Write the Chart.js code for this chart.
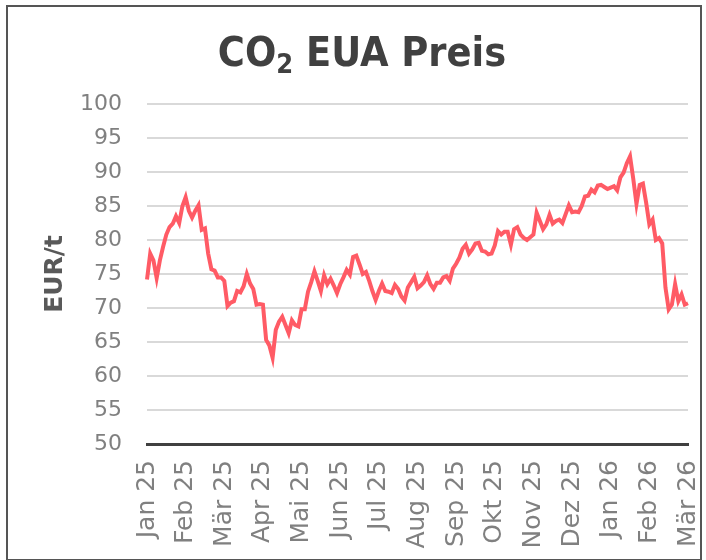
<!DOCTYPE html>
<html>
<head>
<meta charset="utf-8">
<script src="https://cdn.jsdelivr.net/npm/chart.js@4"></script>
<style>
  html, body { margin: 0; padding: 0; background: #fff; }
  #wrap { position: relative; width: 706px; height: 560px; }
  #frame { position: absolute; left: 6px; top: 5px; width: 692px; height: 552px; border: 2px solid #555; pointer-events: none; }
</style>
</head>
<body>
<div id="wrap">
  <canvas id="chart" width="706" height="560"></canvas>
  <div id="frame"></div>
</div>
<script>
// CO2 EUA Preis – daily-ish series, 12 samples per month label
const monthLabels = ['Jan 25', 'Feb 25', 'Mär 25', 'Apr 25', 'Mai 25', 'Jun 25', 'Jul 25',
    'Aug 25', 'Sep 25', 'Okt 25', 'Nov 25', 'Dez 25', 'Jan 26', 'Feb 26', 'Mär 26'];
const pointsPerMonth = 12;

const prices = [
    74.2, 78, 77, 74.4, 77, 79, 80.8, 81.9, 82.4, 83.5, 82.5, 85, 86.3, 84.3, 83.3, 84.3, 85.1, 81.5, 81.7, 78, 75.7, 75.5, 74.5, 74.5, 74,
    70.3, 70.8, 71, 72.5, 72.3, 73.2, 75, 73.6, 72.8, 70.5, 70.6, 70.5, 65.3, 64.5, 62.7, 66.8, 68, 68.7, 67.5, 66.3, 68.2, 67.5, 67.3, 69.8,
    69.8, 72.4, 73.8, 75.4, 74, 72.5, 74.8, 73.5, 74.3, 73.3, 72.2, 73.5, 74.5, 75.6, 74.9, 77.5, 77.7, 76.4, 75, 75.3, 74, 72.5, 71.2, 72.5,
    73.6, 72.5, 72.4, 72.2, 73.4, 72.8, 71.7, 71.1, 73, 73.8, 74.6, 72.9, 73.3, 73.8, 74.8, 73.5, 72.8, 73.7, 73.7, 74.5, 74.7, 74, 75.8, 76.5,
    77.4, 78.7, 79.3, 78, 78.6, 79.5, 79.6, 78.4, 78.3, 77.9, 78, 79.2, 81.3, 80.8, 81.2, 81.2, 79.3, 81.6, 81.9, 80.8, 80.3, 80, 80.4, 80.8,
    84, 82.8, 81.6, 82.3, 83.7, 82.4, 82.8, 83, 82.5, 83.8, 85.1, 84.1, 84.2, 84.1, 85, 86.4, 86.5, 87.4, 87, 88, 88.1, 87.8, 87.5, 87.7,
    87.9, 87.3, 89.2, 89.9, 91.3, 92.3, 89, 85.3, 88.1, 88.3, 85.5, 82.3, 83, 80, 80.3, 79.5, 73, 69.8, 70.5, 73.5, 71, 72, 70.5, 70.7
];

const yMin = 50, yMax = 100, yStep = 5;

// title pieces: "CO" + subscript "2" + " EUA Preis"
const titleParts = ['CO', '2', ' EUA Preis'];

// only every 12th point carries a month label
const labels = prices.map((_, i) => i % pointsPerMonth === 0 ? monthLabels[i / pointsPerMonth] : '');

const FONT = 'DejaVu Sans';
const TITLE_FONT = "'DejaVu Sans Condensed', 'DejaVu Sans'";

// Title with a real subscript (Chart.js title can't do that)
const subTitlePlugin = {
    id: 'subTitle',
    afterDraw(chart) {
        const ctx = chart.ctx;
        const big = 'bold 41px ' + TITLE_FONT;
        const small = 'bold 27px ' + TITLE_FONT;
        ctx.save();
        ctx.fillStyle = '#404040';
        ctx.textBaseline = 'alphabetic';
        ctx.font = big;
        const w0 = ctx.measureText(titleParts[0]).width;
        const w2 = ctx.measureText(titleParts[2]).width;
        ctx.font = small;
        const w1 = ctx.measureText(titleParts[1]).width;
        let x = 362 - (w0 + w1 + w2) / 2;
        const base = 66;
        ctx.font = big;
        ctx.fillText(titleParts[0], x, base);
        x += w0;
        ctx.font = small;
        ctx.fillText(titleParts[1], x, base + 7);
        x += w1;
        ctx.font = big;
        ctx.fillText(titleParts[2], x, base);
        ctx.restore();
    }
};

new Chart(document.getElementById('chart'), {
    type: 'line',
    data: {
        labels,
        datasets: [{
            label: 'CO2 EUA',
            data: prices,
            borderColor: '#ff5b65',
            borderWidth: 4,
            pointRadius: 0,
            tension: 0,
            fill: false,
        }]
    },
    plugins: [subTitlePlugin],
    options: {
        responsive: false,
        animation: false,
        layout: { padding: { left: 0, right: 18, top: 104, bottom: 0 } },
        plugins: {
            legend: { display: false },
            tooltip: { enabled: false },
            title: { display: false },
        },
        scales: {
            x: {
                grid: { display: false, drawTicks: false },
                border: { display: true, color: '#404040', width: 3 },
                ticks: {
                    autoSkip: false,
                    maxRotation: 90,
                    minRotation: 90,
                    padding: 16,
                    color: '#808080',
                    font: { family: FONT, size: 25 },
                },
                afterFit: (s) => {
                    s.height = 116;
                    s.paddingLeft = 0;
                    s.paddingRight = 0;
                },
            },
            y: {
                min: yMin,
                max: yMax,
                grid: { color: '#d9d9d9', lineWidth: 2, drawTicks: false },
                border: { display: false },
                ticks: {
                    stepSize: yStep,
                    padding: 25,
                    color: '#808080',
                    font: { family: FONT, size: 22 },
                },
                title: {
                    display: true,
                    text: 'EUR/t',
                    color: '#595959',
                    font: { family: FONT, size: 25, weight: 'bold' },
                    padding: { top: 40, bottom: 0 },
                },
                afterFit: (s) => {
                    s.width = 147;
                    s.paddingTop = 0;
                    s.paddingBottom = 0;
                },
            }
        }
    }
});
</script>
</body>
</html>
